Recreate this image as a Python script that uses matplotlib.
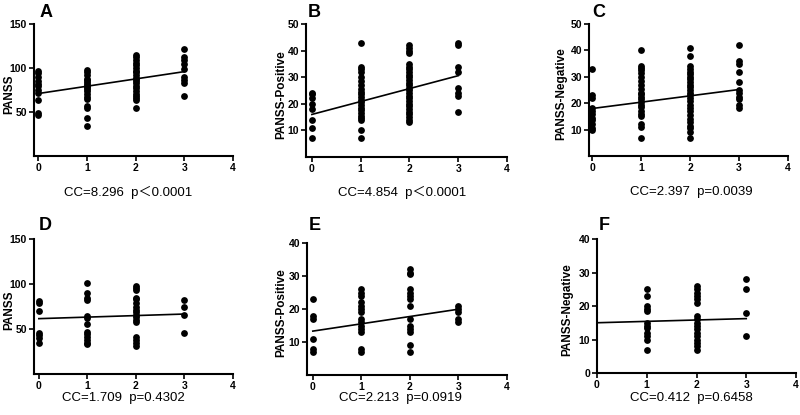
import matplotlib
matplotlib.use("Agg")
import matplotlib.pyplot as plt
import numpy as np

plt.rcParams['font.family'] = ['Liberation Sans', 'Noto Sans CJK SC', 'DejaVu Sans']

# ---------------- data (values per genotype/level 0,1,2,3) ----------------
levels = [0, 1, 2, 3]

a_vals = [
    [97, 94, 90, 85, 82, 79, 75, 72, 64, 49, 47],
    [98, 95, 92, 88, 86, 84, 82, 80, 78, 76, 74, 70, 67, 65, 57, 55, 43, 34],
    [115, 112, 109, 106, 103, 100, 97, 95, 92, 89, 87, 85, 83, 80, 77, 74, 70, 68, 66, 64, 54],
    [122, 113, 109, 105, 99, 90, 86, 83, 68],
]
b_vals = [
    [24, 23.5, 22, 20, 18, 14, 11, 7],
    [43, 34, 33, 32, 30, 28.5, 27, 25.5, 24.5, 23.5, 22.5, 21.5, 20.5, 19.5, 18.5, 17.5, 16.5, 15.5, 14.5, 14, 10, 7],
    [42, 41, 40, 39, 35, 34, 33, 32, 31, 30, 29, 28, 27, 26, 25, 24, 23, 22, 21, 20, 19, 18, 17, 16, 15, 14, 13],
    [43, 42, 34, 32, 26, 24, 23, 17],
]
c_vals = [
    [33, 23, 22, 18, 17, 16, 14.5, 13.5, 12, 10.5, 10],
    [40, 34, 33.5, 32.5, 31.5, 30, 28.5, 27, 25.5, 24, 23.5, 22.5, 21.5, 20.5, 19.5, 18.5, 17, 16, 15, 12, 11, 7],
    [41, 38, 34, 33, 32, 31, 30, 29, 28, 27, 26, 25, 24, 23, 22, 21, 19.5, 18, 17, 15.5, 14, 13, 11.5, 10.5, 9, 7],
    [42, 36, 35, 32, 28, 25, 24, 22.5, 21.5, 19.5, 18],
]
d_vals = [
    [81, 79, 70, 46, 43, 40, 35],
    [101, 90, 84, 82, 64, 62, 56, 47, 44, 41, 38, 35, 33],
    [98, 96, 93, 85, 83, 79, 75, 71, 69, 66, 63, 60, 58, 41, 38, 34, 31],
    [82, 75, 66, 46],
]
e_vals = [
    [23, 18, 17, 11, 8, 7],
    [26, 25, 24, 22, 21, 20, 19, 17, 16, 15, 14, 13, 8, 7],
    [32, 31, 30.5, 26, 25, 24, 23, 21, 17, 15, 14, 13, 9, 7],
    [21, 20, 19, 17, 16],
]
f_vals = [
    [],
    [25, 23, 20, 19, 18.5, 15, 14, 13.5, 12, 11, 10, 7],
    [26, 25, 24, 23, 22, 21, 17, 16, 15, 14, 13, 12, 11, 10, 9, 8, 7],
    [28, 25, 18, 11],
]

panel_letters = ['A', 'B', 'C', 'D', 'E', 'F']
y_labels = ['PANSS', 'PANSS-Positive', 'PANSS-Negative',
            'PANSS', 'PANSS-Positive', 'PANSS-Negative']
cc_values = [8.296, 4.854, 2.397, 1.709, 2.213, 0.412]
intercepts = [71.0, 16.0, 18.0, 61.5, 13.3, 15.0]
p_texts = ['p\uff1c0.0001', 'p\uff1c0.0001', 'p=0.0039', 'p=0.4302', 'p=0.0919', 'p=0.6458']
x_ticks = [0, 1, 2, 3, 4]
y_ticks = [[50, 100, 150], [10, 20, 30, 40, 50], [10, 20, 30, 40, 50],
           [50, 100, 150], [10, 20, 30, 40], [0, 10, 20, 30, 40]]
y_max = [150, 50, 50, 150, 40, 40]
all_vals = [a_vals, b_vals, c_vals, d_vals, e_vals, f_vals]

# ---------------- layout (pixels) ----------------
W, H = 800, 415
# left spine, right end, top, bottom, xmin
boxes = [
    (34, 233, 24, 156, -0.09),
    (306, 507, 24, 157, -0.12),
    (589, 788, 24, 156, -0.07),
    (34, 233, 239, 374, -0.10),
    (307, 507, 243, 375, -0.12),
    (597, 796, 239, 373, 0.0),
]
ylabel_right = [15, 287, 567, 15, 287, 573]
letter_pos = [(40, 17), (308, 17), (592, 17), (39, 230), (309, 230), (599, 230)]
cc_pos = [(128, 192), (402, 192), (691, 192), (123, 398), (400, 398), (691, 398)]

fig = plt.figure(figsize=(W / 100, H / 100), dpi=100)

for i in range(6):
    l, r, t, b, xmin = boxes[i]
    ax = fig.add_axes([l / W, 1 - b / H, (r - l) / W, (b - t) / H])
    vals = all_vals[i]
    for lv, ys in zip(levels, vals):
        if len(ys) == 0:
            continue
        ax.scatter(np.full(len(ys), lv), ys, s=24, color='black', zorder=3,
                   clip_on=False, linewidths=0)
    xl = np.array([0, 3])
    ax.plot(xl, intercepts[i] + cc_values[i] * xl, color='black', lw=1.2, zorder=4)

    ax.set_xlim(xmin, 4)
    ax.set_ylim(0, y_max[i])
    ax.set_xticks(x_ticks)
    ax.set_yticks(y_ticks[i])
    ax.spines['top'].set_visible(False)
    ax.spines['right'].set_visible(False)
    for s in ['left', 'bottom']:
        ax.spines[s].set_linewidth(1.5)
    ax.tick_params(direction='out', length=3.5, width=1.2, labelsize=7.5, pad=1.5)
    for lab in ax.get_xticklabels() + ax.get_yticklabels():
        lab.set_fontweight('bold')
    ax.set_ylabel(y_labels[i], fontsize=8.5, fontweight='bold')
    ax.yaxis.set_label_coords((ylabel_right[i] - l) / (r - l), 0.47)

    lx, ly = letter_pos[i]
    fig.text(lx / W, 1 - ly / H, panel_letters[i], fontsize=13, fontweight='bold',
             ha='left', va='baseline')
    cx, cy = cc_pos[i]
    fig.text(cx / W, 1 - cy / H, 'CC=%.3f  %s' % (cc_values[i], p_texts[i]),
             fontsize=9.5, ha='center', va='center')

fig.savefig('out.png', dpi=100)
